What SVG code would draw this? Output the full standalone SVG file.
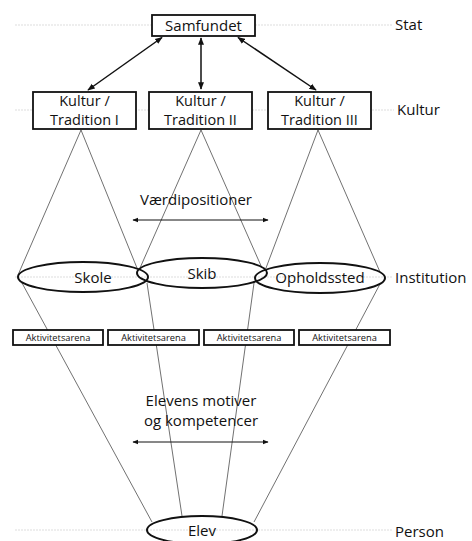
<svg xmlns="http://www.w3.org/2000/svg" width="472" height="541" viewBox="0 0 472 541">
<style>
.guide{stroke:#d4d4d4;stroke-width:0.8;stroke-dasharray:2 1;fill:none}
.box{fill:#fff;stroke:#111;stroke-width:1.8}
.ell{fill:none;stroke:#111;stroke-width:2}
.cone{stroke:#333;stroke-width:0.7;fill:none}
.arr{stroke:#111;stroke-width:1.5;fill:none;marker-start:url(#ah);marker-end:url(#ah)}
.arr2{stroke:#111;stroke-width:1;fill:none;marker-start:url(#ah2);marker-end:url(#ah2)}
text{font-family:"Open Sans","Noto Sans",sans-serif;fill:#111}
.t{font-size:15px;text-anchor:middle}
.k{font-size:14.5px;text-anchor:middle}
.lvl{font-size:15px}
.small{font-size:9.3px;text-anchor:middle}
</style>
<defs>
<marker id="ah" viewBox="0 0 10 10" refX="9" refY="5" markerWidth="5" markerHeight="5" orient="auto-start-reverse" markerUnits="strokeWidth"><path d="M0,1 L10,5 L0,9 z" fill="#111"/></marker>
<marker id="ah2" viewBox="0 0 10 10" refX="9" refY="5" markerWidth="6" markerHeight="6" orient="auto-start-reverse" markerUnits="strokeWidth"><path d="M0,1 L10,5 L0,9 z" fill="#111"/></marker>
</defs>
<g id="guides">
<line class="guide" x1="15" y1="25" x2="392" y2="25"/>
<line class="guide" x1="15" y1="110" x2="394" y2="110"/>
<line class="guide" x1="15" y1="277" x2="392" y2="277"/>
<line class="guide" x1="15" y1="530" x2="392" y2="530"/>
</g>
<g id="connectors">
<line class="arr" x1="162" y1="37.5" x2="88" y2="90"/>
<line class="arr" x1="201" y1="38" x2="201" y2="89"/>
<line class="arr" x1="238" y1="37.5" x2="316" y2="90"/>
<polyline class="cone" points="18,275 81,130 137,268"/>
<polyline class="cone" points="140,268 201,130 262,268"/>
<polyline class="cone" points="266,268 318,130 380,272"/>
<line class="cone" x1="22" y1="283" x2="152" y2="522"/>
<line class="cone" x1="147" y1="283" x2="182" y2="516"/>
<line class="cone" x1="254" y1="283" x2="222" y2="516"/>
<line class="cone" x1="380" y1="284" x2="254" y2="522"/>
<line class="arr2" x1="133" y1="220" x2="268" y2="220"/>
<line class="arr2" x1="133" y1="442" x2="268" y2="442"/>
</g>
<g id="samfundet"><rect class="box" x="152" y="15" width="103" height="21"/><text class="t" x="203.5" y="31">Samfundet</text></g>
<g id="kultur1"><rect class="box" x="33" y="92" width="103" height="37"/><text class="k" x="84.5" y="106">Kultur /</text><text class="k" x="84.5" y="125">Tradition I</text></g>
<g id="kultur2"><rect class="box" x="149" y="92" width="103" height="37"/><text class="k" x="200.5" y="106">Kultur /</text><text class="k" x="200.5" y="125">Tradition II</text></g>
<g id="kultur3"><rect class="box" x="268" y="92" width="103" height="37"/><text class="k" x="319.5" y="106">Kultur /</text><text class="k" x="319.5" y="125">Tradition III</text></g>
<g id="vaerdi"><text class="t" x="196" y="205">Værdipositioner</text></g>
<g id="skole"><ellipse class="ell" cx="83" cy="277" rx="65" ry="15"/><text class="t" x="93" y="283">Skole</text></g>
<g id="skib"><ellipse class="ell" cx="202" cy="273" rx="65" ry="15"/><text class="t" x="202" y="279">Skib</text></g>
<g id="opholdssted"><ellipse class="ell" cx="320" cy="278" rx="65" ry="15"/><text class="t" x="320" y="283">Opholdssted</text></g>
<g id="akt1"><rect class="box" x="13" y="330" width="90" height="15" stroke-width="1.5"/><text class="small" x="58" y="341">Aktivitetsarena</text></g>
<g id="akt2"><rect class="box" x="108" y="330" width="91" height="15" stroke-width="1.5"/><text class="small" x="153.5" y="341">Aktivitetsarena</text></g>
<g id="akt3"><rect class="box" x="204" y="330" width="90" height="15" stroke-width="1.5"/><text class="small" x="249" y="341">Aktivitetsarena</text></g>
<g id="akt4"><rect class="box" x="299" y="330" width="91" height="15" stroke-width="1.5"/><text class="small" x="344.5" y="341">Aktivitetsarena</text></g>
<g id="motiver"><text class="t" x="201" y="406">Elevens motiver</text><text class="t" x="201" y="426">og kompetencer</text></g>
<g id="elev"><ellipse class="ell" cx="202" cy="530" rx="55" ry="14"/><text class="t" x="202" y="536">Elev</text></g>
<g id="levels">
<text class="lvl" x="395" y="30">Stat</text>
<text class="lvl" x="397" y="115">Kultur</text>
<text class="lvl" x="395" y="283">Institution</text>
<text class="lvl" x="395" y="537">Person</text>
</g>
</svg>
